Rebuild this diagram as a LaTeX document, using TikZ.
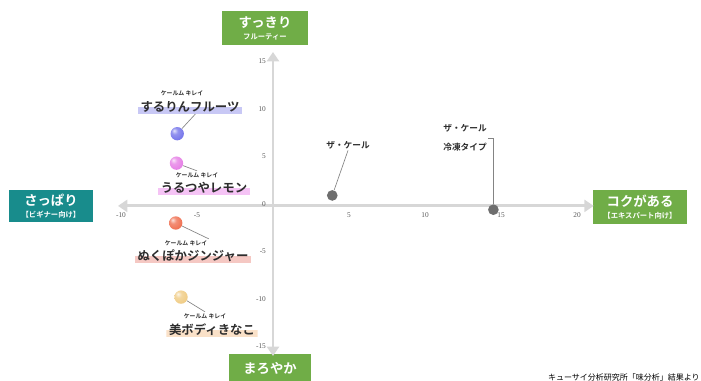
\documentclass[tikz,border=0pt]{standalone}
\usepackage{fontspec}
\setmainfont{Noto Sans CJK JP}[BoldFont={Noto Sans CJK JP Bold}]
\newfontfamily\tickfont{Liberation Serif}
\usetikzlibrary{arrows.meta,positioning}
\definecolor{mygreen}{RGB}{112,173,71}
\definecolor{myteal}{RGB}{24,140,140}
\definecolor{myaxis}{RGB}{215,215,215}
\definecolor{mytick}{RGB}{90,90,90}
\definecolor{mytext}{RGB}{45,45,45}
\definecolor{mygray}{RGB}{110,110,110}
\definecolor{myblue}{RGB}{120,120,235}
\definecolor{mypink}{RGB}{230,130,230}
\definecolor{myorange}{RGB}{240,115,85}
\definecolor{myyellow}{RGB}{240,205,135}
\definecolor{hlblue}{RGB}{200,200,245}
\definecolor{hlpink}{RGB}{245,195,245}
\definecolor{hlred}{RGB}{245,200,195}
\definecolor{hlpeach}{RGB}{250,225,200}
\makeatletter
\pgfdeclareradialshading[tikz@ball]{glassball}{\pgfpoint{-12bp}{12bp}}{%
    color(0bp)=(tikz@ball!20!white); color(12bp)=(tikz@ball!80!white);
    color(30bp)=(tikz@ball); color(45bp)=(tikz@ball!85!black); color(70bp)=(tikz@ball!75!black)}
\makeatother
\newcommand{\rubytext}{ケールム キレイ}
\newcommand{\bigsize}{\fontsize{10}{12}\selectfont\bfseries}
\newcommand{\subsize}{\fontsize{5.5}{7}\selectfont\bfseries}
\tikzset{
    axisbox/.style={fill=#1, text=white, align=center, inner sep=0pt, minimum height=26pt},
    axisline/.style={draw=myaxis, line width=2.2pt, {Triangle[width=9pt,length=7pt]}-{Triangle[width=9pt,length=7pt]}},
    xtick/.style={font=\tickfont\fontsize{5.5}{6}\selectfont, text=mytick, inner sep=0pt},
    ytick/.style={xtick, anchor=east},
    ball/.style={circle, inner sep=0pt, minimum size=10pt, ball color=#1, shading=glassball},
    dot/.style={circle, fill=mygray, inner sep=0pt, minimum size=8pt},
    ruby/.style={font=\fontsize{4.4}{5}\selectfont\bfseries, text=mytext, inner sep=1pt},
    kale/.style={font=\fontsize{9.3}{11}\selectfont\bfseries, text=mytext, inner xsep=2pt, inner ysep=1pt,
        path picture={
            \fill[#1] (path picture bounding box.south west) rectangle (path picture bounding box.east);
        }
    },
    tag/.style={font=\fontsize{6.5}{14}\selectfont\bfseries, text=mytext, align=left, inner sep=1pt},
    lead/.style={draw=mygray!85, line width=0.5pt}
}

\begin{document}
\begin{tikzpicture}[x=0.75pt, y=-0.75pt]
    \useasboundingbox (0,0) rectangle (701,381);

    % axis boxes
    \node[axisbox=mygreen, minimum width=64pt] (up) at (265,28) {\bigsize すっきり\\[-3pt]\subsize フルーティー};
    \node[axisbox=mygreen, minimum width=62pt, minimum height=23pt] (down) at (270,369) {\bigsize まろやか};
    \node[axisbox=myteal, minimum width=63pt, minimum height=24pt] (left) at (51,206) {\bigsize さっぱり\\[-3pt]\subsize 【ビギナー向け】};
    \node[axisbox=mygreen, minimum width=71pt, minimum height=25pt] (right) at (640,207) {\bigsize コクがある\\[-3pt]\subsize 【エキスパート向け】};

    % plot, data units
    \begin{scope}[shift={(273,204)}, x=11.4pt, y=7.125pt]
        \coordinate (xmin) at (-10.2,-0.2);
        \coordinate (xmax) at (21.1,-0.2);
        \coordinate (ymin) at (0,-16.0);
        \coordinate (ymax) at (0,16.0);
        \draw[axisline] (xmin) -- (xmax);
        \draw[axisline] (ymax) -- (ymin);
        \foreach \v in {-10,-5,5,10,15,20}
            \node[xtick] at (\v,-1.15) {\v};
        \foreach \v in {-15,-10,-5,0,5,10,15}
            \node[ytick] at (-0.45,\v) {\v};

        \node[ball=myblue] (b1) at (-6.3,7.4) {};
        \node[ball=mypink] (b2) at (-6.35,4.3) {};
        \node[ball=myorange] (b3) at (-6.4,-2.0) {};
        \node[ball=myyellow] (b4) at (-6.05,-9.8) {};
        \node[dot] (g1) at (3.9,0.9) {};
        \node[dot] (g2) at (14.5,-0.6) {};
    \end{scope}

    % labels
    \node[kale=hlblue] (n1) at (190,107) {するりんフルーツ};
    \node[ruby] (r1) at (182,93) {\rubytext};
    \node[kale=hlpink] (n2) at (204,188) {うるつやレモン};
    \node[ruby] (r2) at (197,175) {\rubytext};
    \node[kale=hlred] (n3) at (193,256) {ぬくぽかジンジャー};
    \node[ruby] (r3) at (186,243) {\rubytext};
    \node[kale=hlpeach] (n4) at (212,330) {美ボディきなこ};
    \node[ruby] (r4) at (205,316) {\rubytext};
    \node[tag] (l1) at (348,145) {ザ・ケール};
    \node[tag] (l2) at (465,138) {ザ・ケール\\冷凍タイプ};

    \draw[lead] (b1) -- ([xshift=4pt]n1.south);
    \draw[lead] (b2) -- (r2.north);
    \draw[lead] (b3) -- (r3.north east);
    \draw[lead] (b4) -- (r4.north);
    \draw[lead] (g1) -- (l1.south);
    \draw[lead] (g2) |- (l2.east);

    \node[anchor=east, inner sep=0pt, font=\fontsize{6}{7}\selectfont] (src) at (700,377) {キューサイ分析研究所「味分析」結果より};
\end{tikzpicture}
\end{document}
